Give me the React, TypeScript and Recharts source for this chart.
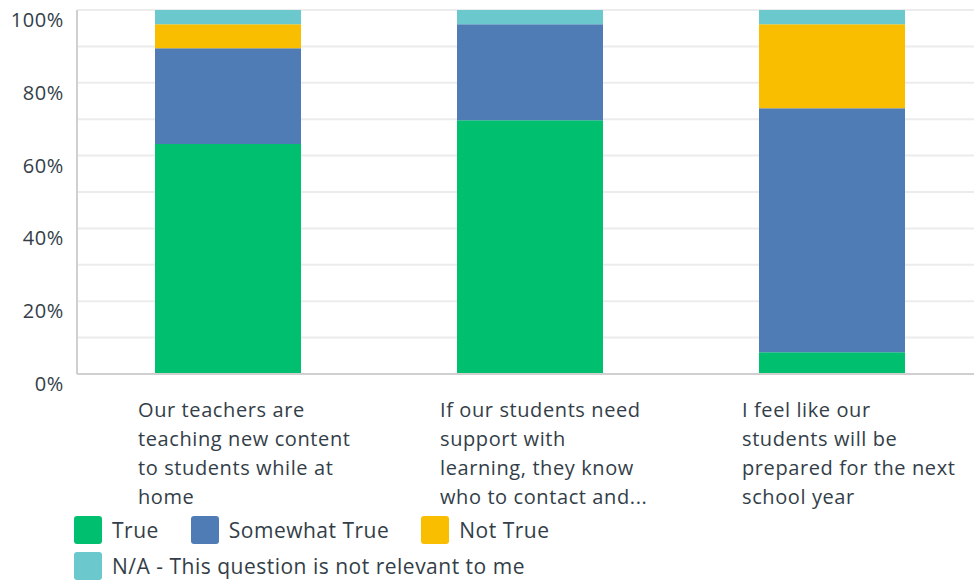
import React from "react";
import { BarChart, Bar, XAxis, YAxis, CartesianGrid, Legend } from "recharts";

const categories = [
  "Our teachers are teaching new content to students while at home",
  "If our students need support with learning, they know who to contact and...",
  "I feel like our students will be prepared for the next school year",
];
const categoryLines = [
  ["Our teachers are", "teaching new content", "to students while at", "home"],
  ["If our students need", "support with", "learning, they know", "who to contact and..."],
  ["I feel like our", "students will be", "prepared for the next", "school year"],
];
const trueVals = [63.2, 69.7, 6.0];
const somewhatVals = [26.3, 26.4, 67.0];
const notTrueVals = [6.6, 0, 23.1];
const naVals = [3.9, 3.9, 3.9];
const yTicks = [0, 10, 20, 30, 40, 50, 60, 70, 80, 90, 100];

const seriesNames = ["True", "Somewhat True", "Not True", "N/A - This question is not relevant to me"];
const seriesKeys = ["t", "s", "n", "na"];
const colors = ["#00bf6f", "#507cb6", "#f9be00", "#6bc8cd"];

const data = categories.map((c, i) => ({
  name: c,
  idx: i,
  t: trueVals[i],
  s: somewhatVals[i],
  n: notTrueVals[i],
  na: naVals[i],
}));

const FONT = "'Open Sans', sans-serif";
const TEXT = "#333e48";

const YTick = (props: any) => {
  const { y, payload } = props;
  if (payload.value % 20 !== 0) return null;
  return (
    <text x={64} y={y + 17} textAnchor="end" fill={TEXT} fontSize={20} letterSpacing={0.6} fontFamily={FONT}>
      {payload.value}%
    </text>
  );
};

const XTick = (props: any) => {
  const { x, y, index } = props;
  const lines = categoryLines[index] || [];
  return (
    <g>
      {lines.map((l, i) => (
        <text key={i} x={x - 90} y={y + 35 + i * 29} textAnchor="start" fill={TEXT} fontSize={20} letterSpacing={0.6} fontFamily={FONT}>
          {l}
        </text>
      ))}
    </g>
  );
};

const LegendContent = () => {
  const item = (i: number) => (
    <div key={i} style={{ display: "flex", alignItems: "center", marginRight: 32 }}>
      <div style={{ width: 28, height: 28, borderRadius: 3, background: colors[i], marginRight: 10 }} />
      <span style={{ fontSize: 21, color: TEXT, fontFamily: FONT, letterSpacing: 0.5 }}>{seriesNames[i]}</span>
    </div>
  );
  return (
    <div style={{ paddingLeft: 74, height: 72, boxSizing: "border-box", paddingTop: 7 }}>
      <div style={{ display: "flex", height: 28, marginBottom: 8 }}>{[0, 1, 2].map(item)}</div>
      <div style={{ display: "flex", height: 28 }}>{[3].map(item)}</div>
    </div>
  );
};

export default function App() {
  return (
    <div style={{ position: "absolute", left: 0, top: 0, width: 974, height: 581, overflow: "hidden", background: "#fff" }}>
      <BarChart width={974} height={581} data={data} margin={{ top: 10, right: -9, left: 0, bottom: 0 }} style={{ overflow: "hidden" }}>
        <CartesianGrid vertical={false} stroke="#ececec" strokeWidth={2} />
        <XAxis
          dataKey="name"
          height={135}
          tick={<XTick />}
          tickLine={false}
          axisLine={{ stroke: "#d0d0d0", strokeWidth: 2 }}
          interval={0}
        />
        <YAxis
          width={77}
          domain={[0, 100]}
          ticks={yTicks}
          tick={<YTick />}
          tickLine={false}
          axisLine={{ stroke: "#d0d0d0", strokeWidth: 2 }}
          interval={0}
        />
        <Legend verticalAlign="bottom" align="left" content={<LegendContent />} height={72} />
        {seriesKeys.map((k, i) => (
          <Bar key={k} dataKey={k} name={seriesNames[i]} stackId="a" fill={colors[i]} barSize={146} isAnimationActive={false} />
        ))}
      </BarChart>
    </div>
  );
}
